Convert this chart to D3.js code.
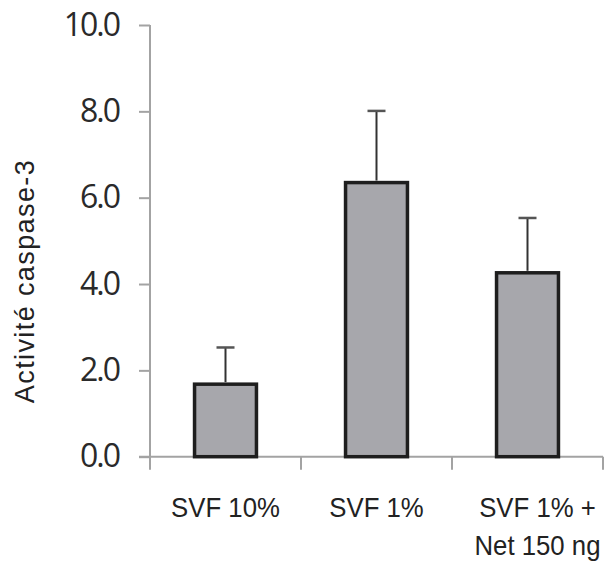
<!DOCTYPE html>
<html>
<head>
<meta charset="utf-8">
<script src="https://cdn.jsdelivr.net/npm/d3@7"></script>
<style>
  body { margin: 0; background: #fff; }
</style>
</head>
<body>
<div id="chart"></div>
<script>
// Données
const categories = ["SVF 10%", "SVF 1%", "SVF 1% +\nNet 150 ng"];
const values = [1.68, 6.35, 4.26];
const errors = [0.85, 1.66, 1.27];
const yTicks = [0, 2, 4, 6, 8, 10];
const yTitle = "Activité caspase-3";

const W = 605, H = 563;
const svg = d3.select("#chart").append("svg")
    .attr("width", W)
    .attr("height", H);

// Échelles
const x = d3.scaleBand()
    .domain(categories)
    .range([150, 603])
    .padding(0);

const y = d3.scaleLinear()
    .domain([0, 10])
    .range([456.7, 25]);

const barW = x.bandwidth() * 0.41;
const axisColor = "#a3a3a3";

// Axe Y
const yAxis = svg.append("g")
    .attr("transform", "translate(150,0)")
    .call(d3.axisLeft(y).tickValues(yTicks).tickFormat(d3.format(".1f")).tickSize(11).tickPadding(20));
yAxis.select(".domain").remove();
yAxis.selectAll(".tick line").attr("stroke", axisColor).attr("stroke-width", 2);
yAxis.selectAll(".tick text")
    .style("font-family", "'Open Sans', sans-serif")
    .style("font-size", "32px")
    .style("letter-spacing", "-2px")
    .attr("fill", "#2a2a2a");
yAxis.append("line")
    .attr("x1", 0).attr("x2", 0)
    .attr("y1", y(10)).attr("y2", y(0) + 13)
    .attr("stroke", axisColor).attr("stroke-width", 2);

// Axe X
const xAxis = svg.append("g");
xAxis.append("line")
    .attr("x1", 139).attr("x2", x.range()[1])
    .attr("y1", y(0)).attr("y2", y(0))
    .attr("stroke", axisColor).attr("stroke-width", 2);
const bounds = categories.map(c => x(c)).concat([x.range()[1]]);
xAxis.selectAll("line.tk")
    .data(bounds.slice(1))
    .join("line")
    .attr("class", "tk")
    .attr("x1", d => d).attr("x2", d => d)
    .attr("y1", y(0)).attr("y2", y(0) + 13)
    .attr("stroke", axisColor).attr("stroke-width", 2);

// Barres
svg.selectAll("rect.bar")
    .data(categories)
    .join("rect")
    .attr("class", "bar")
    .attr("x", d => x(d) + x.bandwidth() / 2 - barW / 2)
    .attr("y", (d, i) => y(values[i]))
    .attr("width", barW)
    .attr("height", (d, i) => y(0) - y(values[i]))
    .attr("fill", "#a7a7ac")
    .attr("stroke", "#1e1e1e")
    .attr("stroke-width", 3.5);

// Barres d'erreur
const err = svg.append("g");
categories.forEach((c, i) => {
    const cx = x(c) + x.bandwidth() / 2;
    err.append("line")
        .attr("x1", cx).attr("x2", cx)
        .attr("y1", y(values[i]) - 2).attr("y2", y(values[i] + errors[i]))
        .attr("stroke", "#333").attr("stroke-width", 2);
    err.append("line")
        .attr("x1", cx - 9).attr("x2", cx + 9)
        .attr("y1", y(values[i] + errors[i])).attr("y2", y(values[i] + errors[i]))
        .attr("stroke", "#555").attr("stroke-width", 2.5);
});

// Étiquettes des catégories
const labels = svg.append("g")
    .style("font-family", "'Liberation Sans', Arial, sans-serif")
    .style("font-size", "28px")
    .attr("fill", "#222")
    .attr("text-anchor", "middle");
categories.forEach((c, i) => {
    const lines = c.split("\n");
    const cx = x(c) + x.bandwidth() / 2 + (lines.length > 1 ? 10 : 0);
    const t = labels.append("text")
        .attr("transform", `translate(${cx},517) scale(0.92,1)`);
    lines.forEach((l, j) => {
        t.append("tspan")
            .attr("x", 0)
            .attr("dy", j === 0 ? 0 : 38)
            .text(l);
    });
});

// Titre de l'axe Y
svg.append("text")
    .attr("transform", "translate(34,281) rotate(-90)")
    .attr("text-anchor", "middle")
    .style("font-family", "'Liberation Sans', Arial, sans-serif")
    .style("font-size", "27px")
    .style("letter-spacing", "1.4px")
    .attr("fill", "#222")
    .text(yTitle);
</script>
</body>
</html>
